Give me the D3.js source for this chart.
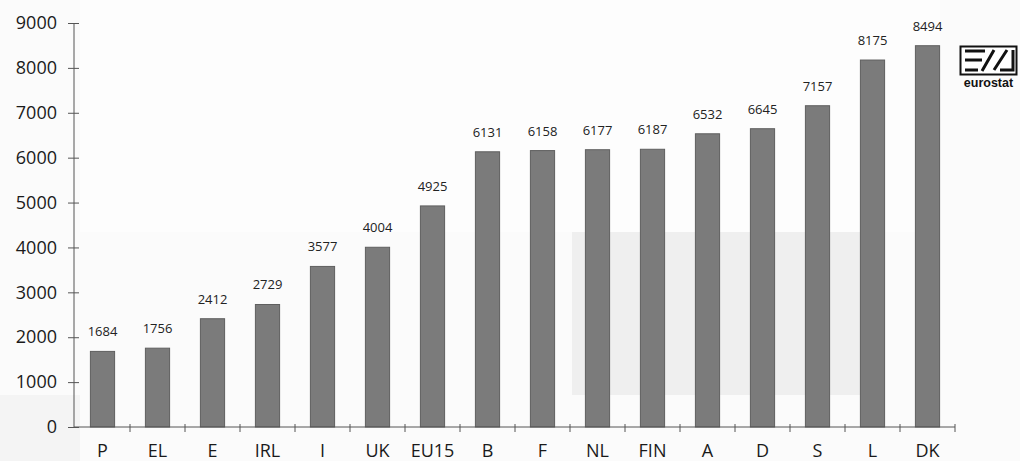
<!DOCTYPE html>
<html>
<head>
<meta charset="utf-8">
<script src="https://cdn.jsdelivr.net/npm/d3@7"></script>
<style>
  html, body { margin: 0; padding: 0; background: #fbfbfb; }
  svg { display: block; }
  .tick text { font-family: "Open Sans", "DejaVu Sans", sans-serif; fill: #1a1a1a; }
</style>
</head>
<body>
<svg id="chart" width="1020" height="461"></svg>
<script>
// Countries ranked by value, with the EU15 average in between
const categories = ["P", "EL", "E", "IRL", "I", "UK", "EU15", "B", "F", "NL", "FIN", "A", "D", "S", "L", "DK"];
const values = [1684, 1756, 2412, 2729, 3577, 4004, 4925, 6131, 6158, 6177, 6187, 6532, 6645, 7157, 8175, 8494];
const yTicks = [0, 1000, 2000, 3000, 4000, 5000, 6000, 7000, 8000, 9000];

const svg = d3.select("#chart");
const W = 1020, H = 461;
const margin = { left: 75, right: 65, top: 23, bottom: 34 };

// faint background panels
svg.append("rect").attr("x", 0).attr("y", 0).attr("width", W).attr("height", H).attr("fill", "#fbfbfb");
svg.append("rect").attr("x", 0).attr("y", 395).attr("width", 80).attr("height", 66).attr("fill", "#f4f4f4");
svg.append("rect").attr("x", 572).attr("y", 232).attr("width", 290).attr("height", 163).attr("fill", "#efefef");
svg.append("rect").attr("x", 80).attr("y", 0).attr("width", 860).attr("height", 232).attr("fill", "#fdfdfd");

const x = d3.scaleBand()
  .domain(categories)
  .range([margin.left, W - margin.right])
  .paddingInner(0.56)
  .paddingOuter(0.28);

const y = d3.scaleLinear()
  .domain([0, 9000])
  .range([H - margin.bottom, margin.top]);

// bars
svg.append("g")
  .selectAll("rect")
  .data(values)
  .join("rect")
  .attr("x", (d, i) => x(categories[i]))
  .attr("y", d => y(d))
  .attr("width", x.bandwidth())
  .attr("height", d => y(0) - y(d))
  .attr("fill", "#7b7b7b")
  .attr("stroke", "#5f5f5f")
  .attr("stroke-width", 1);

// value labels
svg.append("g")
  .selectAll("text")
  .data(values)
  .join("text")
  .attr("x", (d, i) => x(categories[i]) + x.bandwidth() / 2)
  .attr("y", d => y(d) - 15)
  .attr("text-anchor", "middle")
  .attr("font-family", "'Open Sans', 'DejaVu Sans', sans-serif")
  .attr("font-size", 13)
  .attr("fill", "#222")
  .text(d => d);

// y axis
const yAxis = svg.append("g")
  .attr("transform", `translate(${margin.left - 1},0)`)
  .call(d3.axisLeft(y).tickValues(yTicks).tickFormat(d3.format("d"))
    .tickSize(6).tickPadding(11).tickSizeOuter(0));
yAxis.selectAll(".tick line").attr("x2", -6).attr("x1", 5);
yAxis.selectAll("line, path").attr("stroke", "#555").attr("stroke-width", 1);
yAxis.select(".domain").attr("d", `M0,${y(0)}V${y(9000)}`);
yAxis.selectAll("text").attr("font-size", 18).attr("fill", "#1a1a1a");

// x axis with ticks between categories
const step = x.step();
const xAxisG = svg.append("g").attr("transform", `translate(0,${y(0)})`);
xAxisG.append("line")
  .attr("x1", margin.left - 1).attr("x2", W - margin.right)
  .attr("stroke", "#555");
xAxisG.selectAll(".sep")
  .data(categories)
  .join("line")
  .attr("class", "sep")
  .attr("x1", c => x(c) + x.bandwidth() / 2 + step / 2)
  .attr("x2", c => x(c) + x.bandwidth() / 2 + step / 2)
  .attr("y1", -3).attr("y2", 5)
  .attr("stroke", "#555");
xAxisG.selectAll(".cat")
  .data(categories)
  .join("text")
  .attr("class", "cat")
  .attr("x", c => x(c) + x.bandwidth() / 2)
  .attr("y", 30)
  .attr("text-anchor", "middle")
  .attr("font-family", "'Open Sans', 'DejaVu Sans', sans-serif")
  .attr("font-size", 18)
  .attr("fill", "#1a1a1a")
  .text(c => c);

// eurostat logo
const logo = svg.append("g").attr("transform", "translate(960,46)");
logo.append("rect").attr("x", 0.5).attr("y", 0.5).attr("width", 56).attr("height", 28)
  .attr("fill", "#fff").attr("stroke", "#111").attr("stroke-width", 2);
logo.append("path")
  .attr("d", "M5,5 H25 M5,14 H22 M5,24 H18")
  .attr("stroke", "#111").attr("stroke-width", 3).attr("fill", "none");
logo.append("path")
  .attr("d", "M22,25 L34,4 M34,24 L47,4 M40,24 H53 L53,4")
  .attr("stroke", "#111").attr("stroke-width", 3).attr("fill", "none");
logo.append("text")
  .attr("x", 28.5).attr("y", 41)
  .attr("text-anchor", "middle")
  .attr("font-family", "'Liberation Sans', Arial, sans-serif")
  .attr("font-weight", "bold")
  .attr("font-size", 12.5)
  .attr("fill", "#111")
  .text("eurostat");
</script>
</body>
</html>
